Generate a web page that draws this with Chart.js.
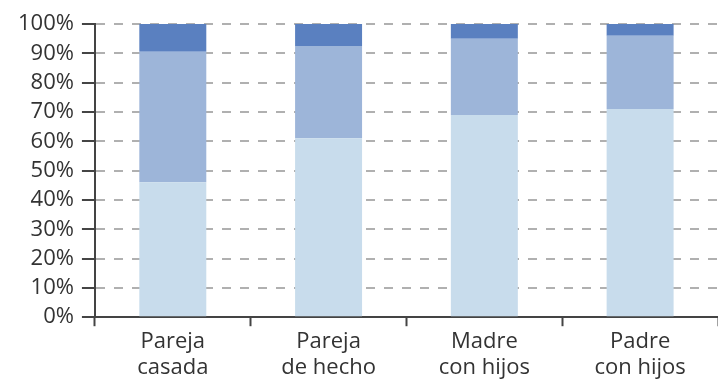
<!DOCTYPE html>
<html>
<head>
<meta charset="utf-8">
<script src="https://cdn.jsdelivr.net/npm/chart.js@4/dist/chart.umd.min.js"></script>
<style>
html,body{margin:0;padding:0;background:#fff;}
#wrap{width:718px;height:383px;position:relative;}
</style>
</head>
<body>
<div id="wrap"><canvas id="c"></canvas></div>
<script>
const categories = [["Pareja","casada"],["Pareja","de hecho"],["Madre","con hijos"],["Padre","con hijos"]];
const seriesLow = [46, 61, 69, 71];
const seriesMid = [44.5, 31.5, 26, 25];
const seriesTop = [9.5, 7.5, 5, 4];
const yTicks = [0,10,20,30,40,50,60,70,80,90,100];

const font = {family: "'Open Sans', sans-serif", size: 22};
new Chart(document.getElementById('c'), {
  type: 'bar',
  data: {
    labels: categories,
    datasets: [
      {data: seriesLow, backgroundColor: '#c8dcec'},
      {data: seriesMid, backgroundColor: '#9db5d9'},
      {data: seriesTop, backgroundColor: '#5a80c0'}
    ]
  },
  options: {
    responsive: true,
    maintainAspectRatio: false,
    animation: false,
    layout: {padding: {top: 24, right: 0, left: 10, bottom: 0}},
    plugins: {legend: {display: false}, tooltip: {enabled: false}},
    datasets: {bar: {categoryPercentage: 1, barPercentage: 0.43}},
    scales: {
      x: {
        stacked: true,
        offset: true,
        grid: {offset: true, drawOnChartArea: false, drawTicks: true, tickLength: 9, tickColor: '#444', tickWidth: 2},
        border: {display: true, color: '#444', width: 2},
        ticks: {color: '#333', font: font, padding: 2, maxRotation: 0, autoSkip: false}
      },
      y: {
        stacked: true,
        min: 0, max: 100,
        afterBuildTicks: (s) => { s.ticks = yTicks.map(v => ({value: v})); },
        grid: {color: '#b0b0b0', lineWidth: 2, tickLength: 13, tickColor: '#444', tickWidth: 2, tickBorderDash: [], drawTicks: true},
        border: {display: true, color: '#444', width: 2, dash: [9, 9]},
        ticks: {color: '#333', font: font, padding: 8, autoSkip: false, callback: v => v + '%'}
      }
    }
  }
});
</script>
</body>
</html>
